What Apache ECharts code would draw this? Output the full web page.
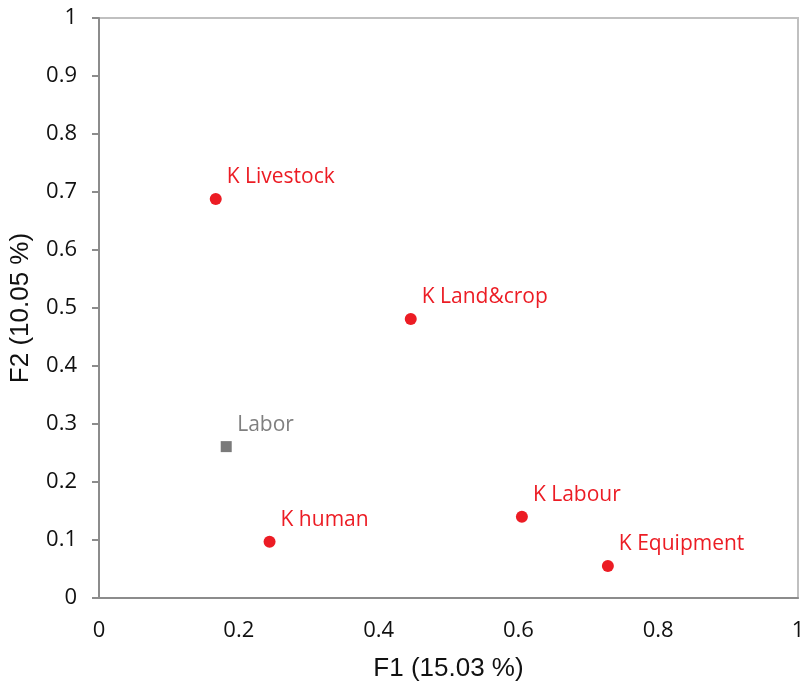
<!DOCTYPE html>
<html>
<head>
<meta charset="utf-8">
<script src="https://cdn.jsdelivr.net/npm/echarts@6/dist/echarts.min.js"></script>
<style>html,body{margin:0;padding:0;background:#fff}#c{width:801px;height:684px}</style>
</head>
<body>
<div id="c"></div>
<script>
const kNames = ['K Livestock', 'K Land&crop', 'K human', 'K Labour', 'K Equipment'];
const kF1 = [0.167, 0.446, 0.244, 0.605, 0.728];
const kF2 = [0.688, 0.481, 0.097, 0.140, 0.055];
const supNames = ['Labor'];
const supF1 = [0.182];
const supF2 = [0.261];
const xTicks = [0, 0.2, 0.4, 0.6, 0.8, 1];
const yTicks = [0, 0.1, 0.2, 0.3, 0.4, 0.5, 0.6, 0.7, 0.8, 0.9, 1];

const chart = echarts.init(document.getElementById('c'), null, {renderer: 'canvas'});
const tickFont = {fontFamily: 'Open Sans', fontSize: 22, color: '#111'};
chart.setOption({
  animation: false,
  grid: {left: 99, right: 3, top: 18, bottom: 86, containLabel: false, outerBoundsMode: 'none',
    show: true, borderColor: '#c0c0c0', borderWidth: 2, backgroundColor: 'transparent'},
  xAxis: {
    type: 'value', min: 0, max: 1, interval: 0.2,
    name: 'F1 (15.03 %)', nameLocation: 'middle', nameGap: 58,
    nameTextStyle: {fontFamily: 'Liberation Sans', fontSize: 26, color: '#111'},
    axisLine: {show: true, onZero: false, lineStyle: {color: '#8c8c8c', width: 2}},
    axisTick: {show: false},
    splitLine: {show: false},
    axisLabel: Object.assign({margin: 22, formatter: v => String(+v.toFixed(1))}, tickFont)
  },
  yAxis: {
    type: 'value', min: 0, max: 1, interval: 0.1,
    name: 'F2 (10.05 %)', nameLocation: 'middle', nameGap: 65, nameRotate: 90,
    nameTextStyle: {fontFamily: 'Liberation Sans', fontSize: 26, color: '#111'},
    axisLine: {show: true, onZero: false, lineStyle: {color: '#8c8c8c', width: 2}},
    axisTick: {show: true, inside: false, length: 7, lineStyle: {color: '#8c8c8c', width: 2}},
    splitLine: {show: false},
    axisLabel: Object.assign({margin: 22, formatter: v => String(+v.toFixed(1))}, tickFont)
  },
  series: [
    {
      type: 'scatter', symbol: 'circle', symbolSize: 12,
      itemStyle: {color: '#ec1c24', opacity: 1},
      data: kNames.map((n, i) => ({name: n, value: [kF1[i], kF2[i]]})),
      label: {show: true, position: 'inside', align: 'left', verticalAlign: 'middle', offset: [11, -22],
        formatter: p => p.name, fontFamily: 'Open Sans', fontSize: 21, color: '#ec1c24'}
    },
    {
      type: 'scatter', symbol: 'rect', symbolSize: 11,
      itemStyle: {color: '#7a7a7a', opacity: 1},
      data: supNames.map((n, i) => ({name: n, value: [supF1[i], supF2[i]]})),
      label: {show: true, position: 'inside', align: 'left', verticalAlign: 'middle', offset: [11, -22],
        formatter: p => p.name, fontFamily: 'Open Sans', fontSize: 21, color: '#7f7f7f'}
    }
  ]
});
</script>
</body>
</html>
